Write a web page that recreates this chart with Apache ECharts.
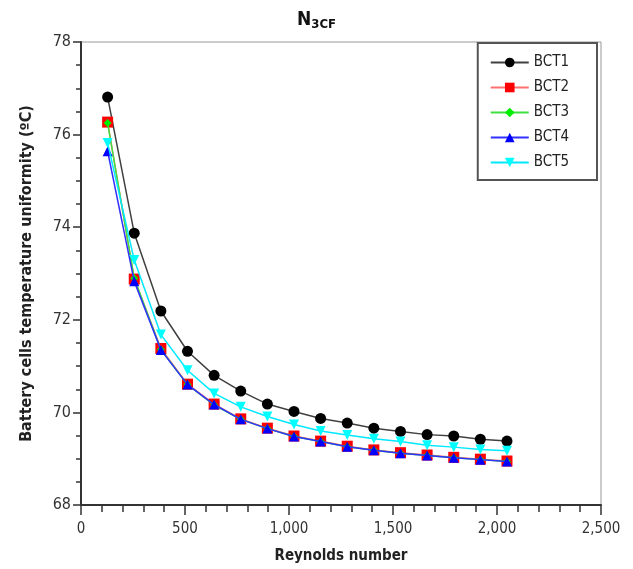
<!DOCTYPE html>
<html>
<head>
<meta charset="utf-8">
<script src="https://cdn.jsdelivr.net/npm/echarts@6/dist/echarts.min.js"></script>
<style>html,body{margin:0;padding:0;background:#fff;}#c{width:633px;height:569px;}</style>
</head>
<body>
<div id="c"></div>
<script>
var reynolds = [128, 256, 384, 512, 640, 768, 896, 1024, 1152, 1280, 1408, 1536, 1664, 1792, 1920, 2048];
var bct1 = [76.81, 73.87, 72.19, 71.32, 70.80, 70.46, 70.18, 70.02, 69.87, 69.77, 69.66, 69.59, 69.52, 69.49, 69.42, 69.38];
var bct2 = [76.27, 72.88, 71.38, 70.61, 70.18, 69.86, 69.66, 69.49, 69.38, 69.27, 69.19, 69.13, 69.08, 69.03, 68.99, 68.95];
var bct3 = [76.25, 72.90, 71.36, 70.60, 70.16, 69.85, 69.65, 69.48, 69.37, 69.26, 69.18, 69.12, 69.07, 69.02, 68.98, 68.94];
var bct4 = [75.64, 72.83, 71.35, 70.60, 70.17, 69.85, 69.65, 69.48, 69.37, 69.26, 69.18, 69.12, 69.07, 69.02, 68.98, 68.94];
var bct5 = [75.82, 73.29, 71.68, 70.91, 70.41, 70.12, 69.91, 69.74, 69.60, 69.51, 69.43, 69.37, 69.29, 69.25, 69.20, 69.17];
var seriesNames = ['BCT1', 'BCT2', 'BCT3', 'BCT4', 'BCT5'];

var FONT = '"DejaVu Sans Condensed", "DejaVu Sans", sans-serif';
function pairs(ys) { return reynolds.map(function (x, i) { return [x, ys[i]]; }); }

var styles = [
  { data: bct1, line: '#404040', mark: '#000000', symbol: 'circle', size: 11, rot: 0 },
  { data: bct2, line: '#ff7070', mark: '#ff0000', symbol: 'rect', size: 11, rot: 0 },
  { data: bct3, line: '#40e040', mark: '#00ee00', symbol: 'diamond', size: 8, rot: 0 },
  { data: bct4, line: '#3030ff', mark: '#0000ff', symbol: 'triangle', size: 10, rot: 0 },
  { data: bct5, line: '#00e8ff', mark: '#00ffff', symbol: 'triangle', size: 10, rot: 180 }
];

var series = styles.map(function (s, i) {
  return {
    name: seriesNames[i], type: 'line', data: pairs(s.data),
    symbol: s.symbol, symbolSize: s.size, symbolRotate: s.rot,
    lineStyle: { color: s.line, width: 1.5 },
    itemStyle: { color: s.mark, borderWidth: 0 },
    z: 2 + i
  };
});

var chart = echarts.init(document.getElementById('c'), null, { renderer: 'canvas' });
chart.setOption({
  animation: false,
  backgroundColor: '#ffffff',
  textStyle: { fontFamily: FONT },
  title: {
    text: '{a|N}{b|3CF}', left: 'center', top: 5,
    textStyle: {
      rich: {
        a: { fontSize: 19, fontWeight: 'bold', color: '#111', fontFamily: FONT },
        b: { fontSize: 13, fontWeight: 'bold', color: '#111', fontFamily: FONT, padding: [8, 0, 0, 0] }
      }
    }
  },
  grid: { left: 81, right: 32, top: 42, bottom: 61, show: true, borderColor: '#999', borderWidth: 1 },
  legend: {
    orient: 'vertical', right: 36, top: 43, width: 120,
    itemWidth: 38, itemHeight: 12, itemGap: 10,
    padding: [12, 28, 10, 12],
    borderColor: '#555', borderWidth: 2, backgroundColor: '#fff',
    textStyle: { fontSize: 15, color: '#222', fontFamily: FONT },
    data: seriesNames
  },
  xAxis: {
    type: 'value', min: 0, max: 2500, interval: 500,
    name: 'Reynolds number', nameLocation: 'middle', nameGap: 44,
    nameTextStyle: { fontSize: 15, fontWeight: 'bold', color: '#222', fontFamily: FONT },
    axisLine: { show: true, onZero: false, lineStyle: { color: '#333', width: 2 } },
    axisTick: { show: true, inside: false, length: 10, lineStyle: { color: '#333', width: 1.5 } },
    minorTick: { show: true, splitNumber: 5, length: 7, lineStyle: { color: '#333', width: 1.5 } },
    splitLine: { show: false },
    axisLabel: { fontSize: 15, color: '#333', margin: 17, fontFamily: FONT,
      formatter: function (v) { return v.toLocaleString('en-US'); } }
  },
  yAxis: {
    type: 'value', min: 68, max: 78, interval: 2,
    name: 'Battery cells temperature uniformity (ºC)', nameLocation: 'middle', nameGap: 46,
    nameTextStyle: { fontSize: 16, fontWeight: 'bold', color: '#222', fontFamily: FONT },
    axisLine: { show: true, onZero: false, lineStyle: { color: '#333', width: 2 } },
    axisTick: { show: true, inside: false, length: 8, lineStyle: { color: '#333', width: 1.5 } },
    minorTick: { show: true, splitNumber: 4, length: 5, lineStyle: { color: '#333', width: 1.5 } },
    splitLine: { show: false },
    axisLabel: { fontSize: 16, color: '#333', margin: 10, fontFamily: FONT }
  },
  series: series
});
</script>
</body>
</html>
